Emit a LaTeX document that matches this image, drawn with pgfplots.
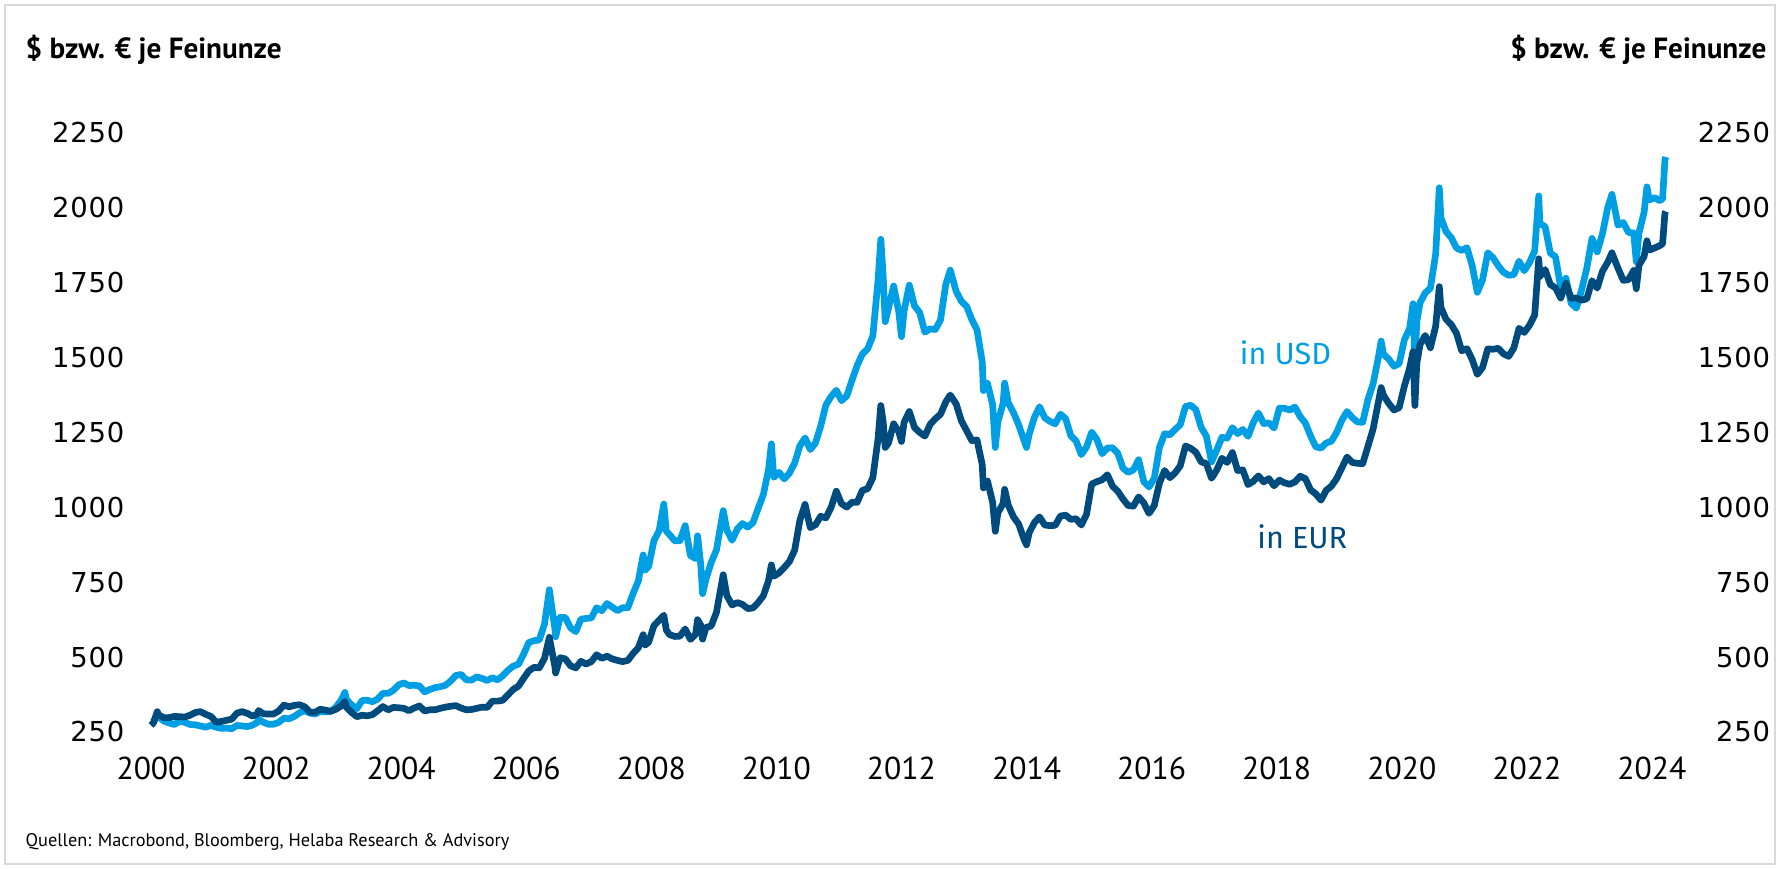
\documentclass[border=0pt]{standalone}
\usepackage{fontspec}
\setmainfont{PT Sans}
\newfontfamily\tickfont[LetterSpace=3]{DejaVu Sans}
\newfontfamily\labfont{Fira Sans}
\usepackage{pgfplots}
\usepackage{pgfplotstable}
\pgfplotsset{compat=1.18}
\definecolor{usdblue}{HTML}{009FE3}
\definecolor{eurblue}{HTML}{004B7D}

% gold price per troy ounce, in USD and in EUR
\pgfplotstableread{
t usd eur
2000.000 283 272
2000.042 284 281
2000.100 312 318
2000.125 300 306
2000.208 286 298
2000.292 280 298
2000.375 275 302
2000.458 286 301
2000.542 282 300
2000.625 275 306
2000.708 274 315
2000.792 270 318
2000.875 266 309
2000.958 272 302
2001.042 266 283
2001.125 262 285
2001.208 263 289
2001.292 261 293
2001.375 272 313
2001.458 270 318
2001.542 268 312
2001.625 273 303
2001.708 283 311
2001.720 293 322
2001.792 283 311
2001.875 276 310
2001.958 276 310
2002.042 282 320
2002.125 296 340
2002.208 294 334
2002.292 302 339
2002.375 314 341
2002.458 321 334
2002.542 313 316
2002.625 310 316
2002.708 319 326
2002.792 317 323
2002.875 319 319
2002.958 333 326
2003.042 357 337
2003.100 382 352
2003.125 359 332
2003.208 340 315
2003.292 328 301
2003.375 355 306
2003.458 356 304
2003.542 351 308
2003.625 360 321
2003.708 379 335
2003.792 379 324
2003.875 389 332
2003.958 407 331
2004.042 414 329
2004.125 405 321
2004.208 406 330
2004.292 404 337
2004.375 384 320
2004.458 392 324
2004.542 398 324
2004.625 401 329
2004.708 406 333
2004.792 420 336
2004.875 439 338
2004.958 442 330
2005.042 424 324
2005.125 423 325
2005.208 434 329
2005.292 429 333
2005.375 422 332
2005.458 431 353
2005.542 424 353
2005.625 438 356
2005.708 456 374
2005.792 470 392
2005.875 476 403
2005.958 510 429
2006.042 549 454
2006.125 555 466
2006.208 557 464
2006.292 610 496
2006.370 725 566
2006.420 650 510
2006.458 596 469
2006.470 568 447
2006.542 633 498
2006.625 632 494
2006.708 598 471
2006.792 585 464
2006.875 627 486
2006.958 629 477
2007.042 631 485
2007.125 665 508
2007.208 655 496
2007.292 679 503
2007.375 667 494
2007.458 655 489
2007.542 665 485
2007.625 665 489
2007.708 712 512
2007.792 754 531
2007.870 841 575
2007.900 790 540
2007.958 803 550
2008.042 889 605
2008.125 922 623
2008.200 1011 640
2008.240 920 590
2008.292 909 575
2008.375 888 569
2008.458 889 570
2008.542 939 594
2008.625 839 559
2008.708 829 576
2008.740 905 625
2008.792 806 606
2008.820 712 560
2008.875 761 599
2008.958 816 604
2009.042 858 650
2009.150 989 775
2009.208 924 705
2009.292 890 674
2009.375 928 682
2009.458 946 676
2009.542 934 662
2009.625 949 664
2009.708 996 682
2009.792 1043 705
2009.875 1127 756
2009.920 1212 808
2009.958 1100 770
2010.042 1117 781
2010.125 1095 799
2010.208 1114 819
2010.292 1148 857
2010.375 1205 956
2010.458 1232 1010
2010.542 1193 932
2010.625 1215 942
2010.708 1271 970
2010.792 1342 965
2010.875 1370 1000
2010.958 1391 1054
2011.042 1356 1012
2011.125 1372 1001
2011.208 1424 1017
2011.292 1474 1017
2011.375 1512 1057
2011.458 1529 1062
2011.542 1572 1099
2011.625 1756 1228
2011.670 1895 1340
2011.708 1772 1284
2011.740 1620 1200
2011.792 1665 1215
2011.875 1739 1279
2011.958 1652 1252
2012.000 1570 1220
2012.042 1656 1284
2012.125 1742 1320
2012.208 1673 1267
2012.292 1650 1250
2012.375 1585 1238
2012.458 1596 1277
2012.542 1594 1296
2012.625 1626 1311
2012.708 1744 1352
2012.780 1792 1375
2012.875 1721 1345
2012.958 1688 1289
2013.042 1671 1256
2013.125 1627 1223
2013.208 1593 1225
2013.292 1485 1142
2013.310 1390 1065
2013.375 1414 1088
2013.458 1343 1017
2013.500 1200 920
2013.542 1286 982
2013.625 1347 1013
2013.650 1415 1060
2013.708 1349 1007
2013.792 1316 968
2013.875 1275 944
2013.958 1225 894
2014.000 1200 875
2014.042 1244 915
2014.125 1300 949
2014.208 1336 968
2014.292 1299 941
2014.375 1287 939
2014.458 1279 940
2014.542 1311 971
2014.625 1296 974
2014.708 1239 960
2014.792 1222 962
2014.875 1176 941
2014.958 1201 976
2015.042 1251 1078
2015.125 1227 1086
2015.208 1179 1092
2015.292 1198 1109
2015.375 1199 1071
2015.458 1181 1054
2015.542 1131 1028
2015.625 1117 1006
2015.708 1125 1004
2015.792 1159 1035
2015.875 1086 1015
2015.958 1068 980
2016.042 1097 1006
2016.125 1200 1081
2016.208 1246 1123
2016.292 1242 1099
2016.375 1260 1115
2016.458 1276 1139
2016.542 1337 1205
2016.625 1341 1197
2016.708 1326 1184
2016.792 1267 1152
2016.875 1238 1146
2016.958 1152 1097
2017.042 1192 1125
2017.125 1234 1164
2017.208 1231 1150
2017.292 1266 1183
2017.375 1246 1123
2017.458 1260 1125
2017.542 1237 1076
2017.625 1283 1087
2017.708 1315 1105
2017.792 1280 1085
2017.875 1282 1096
2017.958 1265 1072
2018.042 1331 1091
2018.125 1331 1082
2018.208 1325 1077
2018.292 1335 1085
2018.375 1303 1104
2018.458 1282 1096
2018.542 1238 1058
2018.625 1202 1045
2018.708 1198 1024
2018.792 1215 1057
2018.875 1221 1071
2018.958 1250 1096
2019.042 1291 1132
2019.125 1320 1168
2019.208 1300 1150
2019.292 1285 1147
2019.375 1284 1146
2019.458 1359 1203
2019.542 1413 1262
2019.625 1500 1351
2019.670 1555 1400
2019.708 1511 1374
2019.792 1495 1347
2019.875 1471 1325
2019.958 1480 1333
2020.042 1560 1405
2020.125 1597 1465
2020.180 1680 1520
2020.210 1475 1340
2020.240 1620 1480
2020.292 1683 1544
2020.375 1716 1574
2020.458 1732 1533
2020.542 1846 1605
2020.600 2067 1737
2020.625 1968 1668
2020.708 1921 1628
2020.792 1900 1610
2020.875 1866 1581
2020.958 1858 1523
2021.042 1867 1530
2021.125 1808 1494
2021.208 1718 1444
2021.292 1760 1467
2021.375 1850 1529
2021.458 1834 1528
2021.542 1807 1531
2021.625 1785 1513
2021.708 1775 1504
2021.792 1777 1532
2021.875 1822 1598
2021.958 1790 1584
2022.042 1817 1608
2022.125 1856 1642
2022.190 2040 1830
2022.208 1948 1771
2022.292 1937 1794
2022.375 1849 1744
2022.458 1837 1733
2022.542 1733 1699
2022.625 1765 1748
2022.708 1681 1698
2022.792 1665 1699
2022.875 1726 1692
2022.958 1798 1696
2023.042 1898 1757
2023.125 1853 1732
2023.208 1913 1788
2023.292 2000 1818
2023.360 2045 1850
2023.458 1942 1798
2023.542 1951 1758
2023.625 1918 1760
2023.708 1916 1791
2023.750 1820 1730
2023.792 1916 1808
2023.875 1985 1838
2023.920 2070 1890
2023.958 2026 1859
2024.042 2034 1866
2024.125 2024 1874
2024.170 2030 1880
2024.208 2160 1982
2024.220 2170 1988
}\gold

\begin{document}
\begin{tikzpicture}
\useasboundingbox (0,0) rectangle (17.8,8.69);
\draw[gray!30, line width=0.8pt] (0.05,0.05) rectangle (17.75,8.64);

\node[anchor=west, inner sep=0pt, font=\bfseries\fontsize{8.3}{9}\selectfont] at (0.25,8.19) {\$ bzw. € je Feinunze};
\node[anchor=east, inner sep=0pt, font=\bfseries\fontsize{8.3}{9}\selectfont] at (17.67,8.19) {\$ bzw. € je Feinunze};
\node[anchor=west, inner sep=0pt, font=\fontsize{5.2}{6.5}\selectfont] at (0.25,0.27) {Quellen: Macrobond, Bloomberg, Helaba Research \& Advisory};

\pgfplotsset{goldaxis/.style={
  at={(1.51cm,1.37cm)}, anchor=south west,
  scale only axis, width=15.197cm, height=5.99cm,
  xmin=2000, xmax=2024.3, ymin=250, ymax=2250,
  axis line style={draw=none}, tick style={draw=none},
  ytick={250,500,...,2250},
  /pgf/number format/1000 sep={},
  /pgf/number format/assume math mode=true,
  clip=false,
}}

\begin{axis}[goldaxis,
  xtick={2000,2002,...,2024},
  xticklabel style={anchor=center, inner sep=0pt, yshift=-3.6mm, font=\fontsize{9}{10}\selectfont},
  yticklabel style={anchor=east, inner sep=0pt, xshift=-2.6mm, font=\tickfont\fontsize{7.8}{9}\selectfont},
]
\addplot[usdblue, line width=1.9pt, line join=round] table[x=t, y=usd] {\gold};
\addplot[eurblue, line width=1.9pt, line join=round] table[x=t, y=eur] {\gold};
\node[text=usdblue, font=\labfont\fontsize{8.7}{10}\selectfont] at (axis cs:2018.14,1515) {in USD};
\node[text=eurblue, font=\labfont\fontsize{8.7}{10}\selectfont] at (axis cs:2018.41,901) {in EUR};
\end{axis}

\begin{axis}[goldaxis,
  xtick=\empty,
  yticklabel pos=right,
  yticklabel style={anchor=east, inner sep=0pt, xshift=10mm, font=\tickfont\fontsize{7.8}{9}\selectfont},
]
\end{axis}
\end{tikzpicture}
\end{document}
